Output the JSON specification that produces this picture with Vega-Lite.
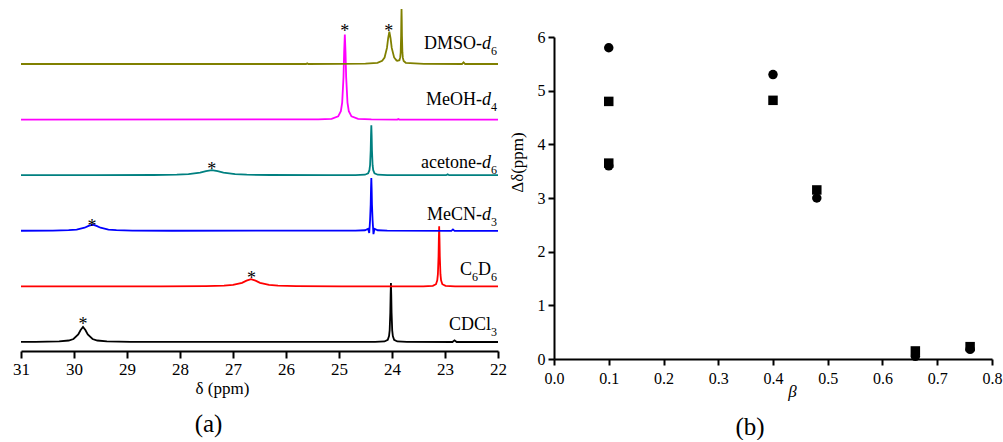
{
  "$schema": "https://vega.github.io/schema/vega-lite/v6.json",
  "background": "white",
  "padding": {"left": 12, "top": 5, "right": 5, "bottom": 0},
  "bounds": "flush",
  "spacing": 56,
  "config": {
    "view": {"stroke": null},
    "font": "'Liberation Serif', 'Times New Roman', 'DejaVu Serif', serif",
    "style": {"guide-label": {"font": "'Liberation Serif', 'Times New Roman', 'DejaVu Serif', serif"}, "guide-title": {"font": "'Liberation Serif', 'Times New Roman', 'DejaVu Serif', serif"}}
  },
  "datasets": {
    "spectra": [
      {"s":"CDCl3","x":22,"y":0},{"s":"CDCl3","x":22.78,"y":0},{"s":"CDCl3","x":22.82,"y":0.03},{"s":"CDCl3","x":22.86,"y":0},{"s":"CDCl3","x":23.72,"y":0.002},{"s":"CDCl3","x":23.9,"y":0.01},{"s":"CDCl3","x":23.96,"y":0.04},{"s":"CDCl3","x":23.984,"y":0.106},{"s":"CDCl3","x":23.996,"y":0.21},{"s":"CDCl3","x":24.008,"y":0.53},{"s":"CDCl3","x":24.014,"y":0.85},{"s":"CDCl3","x":24.02,"y":1.06},{"s":"CDCl3","x":24.026,"y":0.85},{"s":"CDCl3","x":24.032,"y":0.53},{"s":"CDCl3","x":24.044,"y":0.21},{"s":"CDCl3","x":24.056,"y":0.106},{"s":"CDCl3","x":24.08,"y":0.04},{"s":"CDCl3","x":24.14,"y":0.01},{"s":"CDCl3","x":24.32,"y":0.002},{"s":"CDCl3","x":28.93,"y":0.003},{"s":"CDCl3","x":29.38,"y":0.01},{"s":"CDCl3","x":29.56,"y":0.027},{"s":"CDCl3","x":29.65,"y":0.054},{"s":"CDCl3","x":29.74,"y":0.135},{"s":"CDCl3","x":29.785,"y":0.216},{"s":"CDCl3","x":29.83,"y":0.27},{"s":"CDCl3","x":29.875,"y":0.216},{"s":"CDCl3","x":29.92,"y":0.135},{"s":"CDCl3","x":30.01,"y":0.054},{"s":"CDCl3","x":30.1,"y":0.027},{"s":"CDCl3","x":30.28,"y":0.01},{"s":"CDCl3","x":30.73,"y":0.003},{"s":"CDCl3","x":31,"y":0.002},
      {"s":"C6D6","x":22,"y":1},{"s":"C6D6","x":22.81,"y":1.002},{"s":"C6D6","x":22.99,"y":1.01},{"s":"C6D6","x":23.05,"y":1.04},{"s":"C6D6","x":23.074,"y":1.108},{"s":"C6D6","x":23.086,"y":1.22},{"s":"C6D6","x":23.098,"y":1.54},{"s":"C6D6","x":23.104,"y":1.86},{"s":"C6D6","x":23.11,"y":2.08},{"s":"C6D6","x":23.116,"y":1.86},{"s":"C6D6","x":23.122,"y":1.54},{"s":"C6D6","x":23.134,"y":1.22},{"s":"C6D6","x":23.146,"y":1.108},{"s":"C6D6","x":23.17,"y":1.04},{"s":"C6D6","x":23.23,"y":1.01},{"s":"C6D6","x":23.41,"y":1.002},{"s":"C6D6","x":24.96,"y":1.001},{"s":"C6D6","x":25.81,"y":1.005},{"s":"C6D6","x":26.15,"y":1.013},{"s":"C6D6","x":26.32,"y":1.026},{"s":"C6D6","x":26.49,"y":1.065},{"s":"C6D6","x":26.575,"y":1.104},{"s":"C6D6","x":26.66,"y":1.13},{"s":"C6D6","x":26.745,"y":1.104},{"s":"C6D6","x":26.83,"y":1.065},{"s":"C6D6","x":27.0,"y":1.026},{"s":"C6D6","x":27.17,"y":1.013},{"s":"C6D6","x":27.51,"y":1.005},{"s":"C6D6","x":28.36,"y":1.001},{"s":"C6D6","x":31,"y":1},
      {"s":"MeCN","x":22,"y":2},{"s":"MeCN","x":22.82,"y":2},{"s":"MeCN","x":22.85,"y":2.025},{"s":"MeCN","x":22.88,"y":2},{"s":"MeCN","x":24.09,"y":2.002},{"s":"MeCN","x":24.27,"y":2.01},{"s":"MeCN","x":24.33,"y":2.036},{"s":"MeCN","x":24.35,"y":1.94},{"s":"MeCN","x":24.36,"y":2.095},{"s":"MeCN","x":24.366,"y":2.19},{"s":"MeCN","x":24.378,"y":2.475},{"s":"MeCN","x":24.384,"y":2.76},{"s":"MeCN","x":24.39,"y":2.95},{"s":"MeCN","x":24.396,"y":2.76},{"s":"MeCN","x":24.402,"y":2.475},{"s":"MeCN","x":24.414,"y":2.19},{"s":"MeCN","x":24.42,"y":2.095},{"s":"MeCN","x":24.43,"y":1.96},{"s":"MeCN","x":24.45,"y":2.036},{"s":"MeCN","x":24.51,"y":2.01},{"s":"MeCN","x":24.69,"y":2.002},{"s":"MeCN","x":28.15,"y":2.001},{"s":"MeCN","x":28.9,"y":2.004},{"s":"MeCN","x":29.2,"y":2.011},{"s":"MeCN","x":29.35,"y":2.022},{"s":"MeCN","x":29.5,"y":2.055},{"s":"MeCN","x":29.575,"y":2.088},{"s":"MeCN","x":29.65,"y":2.11},{"s":"MeCN","x":29.725,"y":2.088},{"s":"MeCN","x":29.8,"y":2.055},{"s":"MeCN","x":29.95,"y":2.022},{"s":"MeCN","x":30.1,"y":2.011},{"s":"MeCN","x":30.4,"y":2.004},{"s":"MeCN","x":31,"y":2.001},
      {"s":"acetone","x":22,"y":3},{"s":"acetone","x":22.92,"y":3},{"s":"acetone","x":22.95,"y":3.015},{"s":"acetone","x":22.98,"y":3},{"s":"acetone","x":24.09,"y":3.002},{"s":"acetone","x":24.27,"y":3.009},{"s":"acetone","x":24.33,"y":3.034},{"s":"acetone","x":24.354,"y":3.09},{"s":"acetone","x":24.366,"y":3.18},{"s":"acetone","x":24.378,"y":3.45},{"s":"acetone","x":24.384,"y":3.72},{"s":"acetone","x":24.39,"y":3.9},{"s":"acetone","x":24.396,"y":3.72},{"s":"acetone","x":24.402,"y":3.45},{"s":"acetone","x":24.414,"y":3.18},{"s":"acetone","x":24.426,"y":3.09},{"s":"acetone","x":24.45,"y":3.034},{"s":"acetone","x":24.51,"y":3.009},{"s":"acetone","x":24.69,"y":3.002},{"s":"acetone","x":25.2,"y":3.001},{"s":"acetone","x":26.3,"y":3.0035},{"s":"acetone","x":26.74,"y":3.009},{"s":"acetone","x":26.96,"y":3.018},{"s":"acetone","x":27.18,"y":3.045},{"s":"acetone","x":27.29,"y":3.072},{"s":"acetone","x":27.4,"y":3.09},{"s":"acetone","x":27.51,"y":3.072},{"s":"acetone","x":27.62,"y":3.045},{"s":"acetone","x":27.84,"y":3.018},{"s":"acetone","x":28.06,"y":3.009},{"s":"acetone","x":28.5,"y":3.0035},{"s":"acetone","x":29.6,"y":3.0009},{"s":"acetone","x":31,"y":3},
      {"s":"MeOH","x":22,"y":4},{"s":"MeOH","x":23.86,"y":4},{"s":"MeOH","x":23.88,"y":4.012},{"s":"MeOH","x":23.9,"y":4},{"s":"MeOH","x":24.39,"y":4.004},{"s":"MeOH","x":24.64,"y":4.015},{"s":"MeOH","x":24.765,"y":4.058},{"s":"MeOH","x":24.815,"y":4.153},{"s":"MeOH","x":24.84,"y":4.306},{"s":"MeOH","x":24.865,"y":4.765},{"s":"MeOH","x":24.8775,"y":5.224},{"s":"MeOH","x":24.89,"y":5.53},{"s":"MeOH","x":24.9025,"y":5.224},{"s":"MeOH","x":24.915,"y":4.765},{"s":"MeOH","x":24.94,"y":4.306},{"s":"MeOH","x":24.965,"y":4.153},{"s":"MeOH","x":25.015,"y":4.058},{"s":"MeOH","x":25.14,"y":4.015},{"s":"MeOH","x":25.39,"y":4.004},{"s":"MeOH","x":31,"y":4},
      {"s":"DMSO","x":22,"y":5},{"s":"DMSO","x":22.62,"y":5},{"s":"DMSO","x":22.65,"y":5.03},{"s":"DMSO","x":22.68,"y":5},{"s":"DMSO","x":23.4,"y":5.004},{"s":"DMSO","x":23.74,"y":5.022},{"s":"DMSO","x":23.78,"y":5.053},{"s":"DMSO","x":23.796,"y":5.115},{"s":"DMSO","x":23.804,"y":5.213},{"s":"DMSO","x":23.812,"y":5.505},{"s":"DMSO","x":23.816,"y":5.796},{"s":"DMSO","x":23.82,"y":5.991},{"s":"DMSO","x":23.824,"y":5.797},{"s":"DMSO","x":23.828,"y":5.507},{"s":"DMSO","x":23.836,"y":5.217},{"s":"DMSO","x":23.844,"y":5.123},{"s":"DMSO","x":23.86,"y":5.068},{"s":"DMSO","x":23.9,"y":5.058},{"s":"DMSO","x":23.915,"y":5.065},{"s":"DMSO","x":23.96,"y":5.118},{"s":"DMSO","x":24.005,"y":5.29},{"s":"DMSO","x":24.0275,"y":5.464},{"s":"DMSO","x":24.05,"y":5.58},{"s":"DMSO","x":24.0725,"y":5.464},{"s":"DMSO","x":24.095,"y":5.29},{"s":"DMSO","x":24.14,"y":5.116},{"s":"DMSO","x":24.185,"y":5.058},{"s":"DMSO","x":24.275,"y":5.022},{"s":"DMSO","x":24.5,"y":5.0057},{"s":"DMSO","x":24.95,"y":5.0015},{"s":"DMSO","x":25.58,"y":5},{"s":"DMSO","x":25.6,"y":5.012},{"s":"DMSO","x":25.62,"y":5},{"s":"DMSO","x":31,"y":5}
    ],
    "stars": [
      {"x":24.06,"y":5.65},{"x":24.89,"y":5.65},{"x":27.4,"y":3.16},{"x":29.66,"y":2.14},{"x":26.65,"y":1.2},{"x":29.83,"y":0.38}
    ],
    "labels": [
      {"t":"DMSO-","x":22.302,"y":5.36,"k":"main"},
      {"t":"MeOH-","x":22.302,"y":4.35,"k":"main"},
      {"t":"acetone-","x":22.302,"y":3.22,"k":"main"},
      {"t":"MeCN-","x":22.302,"y":2.28,"k":"main"},
      {"t":"C","x":22.491,"y":1.29,"k":"main"},
      {"t":"D","x":22.132,"y":1.29,"k":"main"},
      {"t":"CDCl","x":22.132,"y":0.31,"k":"main"},
      {"t":"d","x":22.302,"y":5.36,"k":"ital"},
      {"t":"d","x":22.302,"y":4.35,"k":"ital"},
      {"t":"d","x":22.302,"y":3.22,"k":"ital"},
      {"t":"d","x":22.302,"y":2.28,"k":"ital"},
      {"t":"6","x":22.132,"y":5.36,"k":"sub"},
      {"t":"4","x":22.132,"y":4.35,"k":"sub"},
      {"t":"6","x":22.132,"y":3.22,"k":"sub"},
      {"t":"3","x":22.132,"y":2.28,"k":"sub"},
      {"t":"6","x":22.491,"y":1.29,"k":"sub"},
      {"t":"6","x":22.132,"y":1.29,"k":"sub"},
      {"t":"3","x":22.132,"y":0.31,"k":"sub"}
    ],
    "points": [
      {"beta":0.1,"dd":4.8,"m":"square"},
      {"beta":0.1,"dd":5.8,"m":"circle"},
      {"beta":0.1,"dd":3.65,"m":"square"},
      {"beta":0.1,"dd":3.6,"m":"circle"},
      {"beta":0.4,"dd":4.82,"m":"square"},
      {"beta":0.4,"dd":5.3,"m":"circle"},
      {"beta":0.48,"dd":3.15,"m":"square"},
      {"beta":0.48,"dd":3.0,"m":"circle"},
      {"beta":0.66,"dd":0.05,"m":"circle"},
      {"beta":0.66,"dd":0.15,"m":"square"},
      {"beta":0.76,"dd":0.23,"m":"square"},
      {"beta":0.76,"dd":0.18,"m":"circle"}
    ]
  },
  "hconcat": [
    {
      "width": 477,
      "height": 314,
      "title": {"text": "(a)", "orient": "bottom", "fontSize": 25, "fontWeight": "normal", "color": "black", "offset": 16, "dx": -51},
      "layer": [
        {
          "data": {"name": "spectra"},
          "mark": {"type": "line", "strokeWidth": 1.8},
          "encoding": {
            "x": {"field": "x", "type": "quantitative",
              "scale": {"domain": [22, 31], "reverse": true, "nice": false, "zero": false},
              "axis": {"values": [22,23,24,25,26,27,28,29,30,31], "format": "d", "tickSize": 7, "tickWidth": 2, "tickColor": "black", "domainColor": "black", "domainWidth": 2, "labelFont": "'Liberation Serif', 'Times New Roman', 'DejaVu Serif', serif", "labelFontSize": 17, "labelColor": "black", "labelPadding": 3, "labelFlush": false, "grid": false, "title": "δ (ppm)", "titleFont": "'Liberation Serif', 'Times New Roman', 'DejaVu Serif', serif", "titleFontSize": 17, "titleFontWeight": "normal", "titleColor": "black", "titlePadding": 3, "titleX": 201}},
            "y": {"field": "y", "type": "quantitative", "scale": {"domain": [-0.162, 5.486], "nice": false, "zero": false}, "axis": null},
            "color": {"field": "s", "type": "nominal", "scale": {"domain": ["DMSO","MeOH","acetone","MeCN","C6D6","CDCl3"], "range": ["#808000","#ff00ff","#008080","#0000ff","#ff0000","#000000"]}, "legend": null}
          }
        },
        {
          "data": {"name": "stars"},
          "mark": {"type": "text", "text": "*", "fontSize": 18, "baseline": "alphabetic", "align": "center", "dy": 9, "color": "black"},
          "encoding": {
            "x": {"field": "x", "type": "quantitative"},
            "y": {"field": "y", "type": "quantitative"}
          }
        },
        {
          "data": {"name": "labels"},
          "transform": [{"filter": "datum.k === 'main'"}],
          "mark": {"type": "text", "fontSize": 18, "baseline": "middle", "align": "right", "color": "black"},
          "encoding": {
            "x": {"field": "x", "type": "quantitative"},
            "y": {"field": "y", "type": "quantitative"},
            "text": {"field": "t"}
          }
        },
        {
          "data": {"name": "labels"},
          "transform": [{"filter": "datum.k === 'ital'"}],
          "mark": {"type": "text", "fontSize": 18, "fontStyle": "italic", "baseline": "middle", "align": "left", "color": "black"},
          "encoding": {
            "x": {"field": "x", "type": "quantitative"},
            "y": {"field": "y", "type": "quantitative"},
            "text": {"field": "t"}
          }
        },
        {
          "data": {"name": "labels"},
          "transform": [{"filter": "datum.k === 'sub'"}],
          "mark": {"type": "text", "fontSize": 12, "baseline": "middle", "align": "left", "dy": 7, "color": "black"},
          "encoding": {
            "x": {"field": "x", "type": "quantitative"},
            "y": {"field": "y", "type": "quantitative"},
            "text": {"field": "t"}
          }
        }
      ]
    },
    {
      "width": 438,
      "height": 322,
      "title": {"text": "(b)", "orient": "bottom", "fontSize": 25, "fontWeight": "normal", "color": "black", "offset": 16, "dx": -23},
      "data": {"name": "points"},
      "mark": {"type": "point", "filled": true, "size": 90, "opacity": 1},
      "encoding": {
        "x": {"field": "beta", "type": "quantitative", "scale": {"domain": [0, 0.8], "nice": false, "zero": false},
          "axis": {"values": [0,0.1,0.2,0.3,0.4,0.5,0.6,0.7,0.8], "format": ".1f", "tickSize": 6, "tickWidth": 2, "tickColor": "black", "domainColor": "black", "domainWidth": 2, "labelFont": "'Liberation Serif', 'Times New Roman', 'DejaVu Serif', serif", "labelFontSize": 16, "labelColor": "black", "labelPadding": 5, "labelFlush": false, "grid": false, "title": "β", "titleFont": "'Liberation Serif', 'Times New Roman', 'DejaVu Serif', serif", "titleFontSize": 17, "titleFontStyle": "italic", "titleFontWeight": "normal", "titleColor": "black", "titlePadding": -3, "titleX": 238}},
        "y": {"field": "dd", "type": "quantitative", "scale": {"domain": [0, 6], "nice": false},
          "axis": {"values": [0,1,2,3,4,5,6], "format": "d", "tickSize": 6, "tickWidth": 2, "tickColor": "black", "domainColor": "black", "domainWidth": 2, "labelFont": "'Liberation Serif', 'Times New Roman', 'DejaVu Serif', serif", "labelFontSize": 16, "labelColor": "black", "labelPadding": 3, "labelFlush": false, "grid": false, "title": "Δδ(ppm)", "titleFont": "'Liberation Serif', 'Times New Roman', 'DejaVu Serif', serif", "titleFontSize": 17, "titleFontWeight": "normal", "titleColor": "black", "titlePadding": 11, "titleY": 125}},
        "shape": {"field": "m", "type": "nominal", "scale": {"domain": ["square","circle"], "range": ["square","circle"]}, "legend": null},
        "color": {"value": "black"}
      }
    }
  ]
}
